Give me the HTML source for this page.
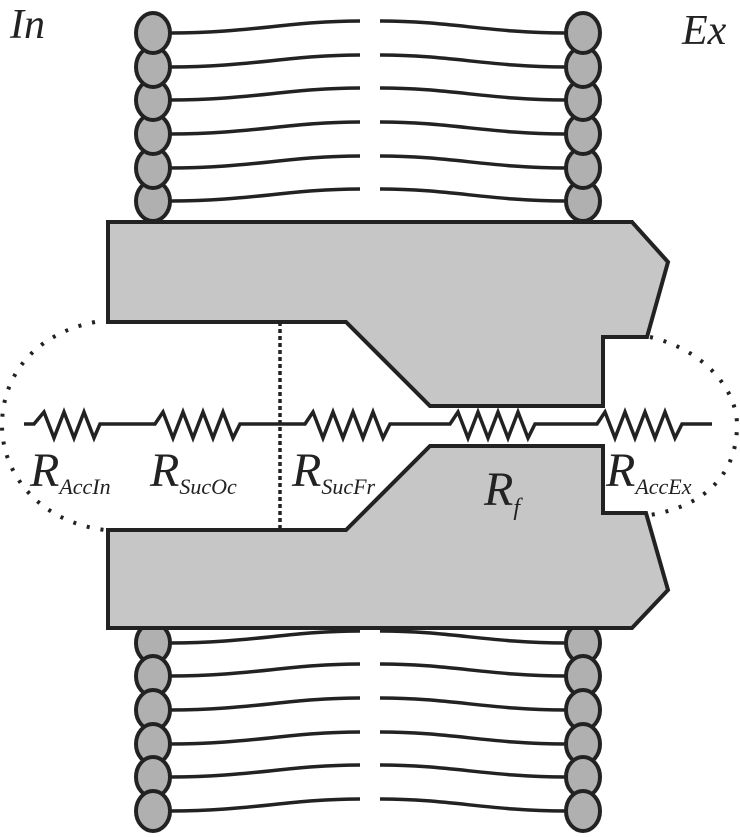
<!DOCTYPE html>
<html><head><meta charset="utf-8"><style>
html,body{margin:0;padding:0;background:#fff;}
svg{display:block;}
text{font-family:"Liberation Serif",serif;font-style:italic;fill:#222;}
</style></head><body>
<svg width="740" height="837" viewBox="0 0 740 837" xmlns="http://www.w3.org/2000/svg">
<g stroke="#222" stroke-width="3.5" fill="none" stroke-linecap="butt">
<g id="tt">
<path d="M170 33 C250 33 290 21 360 21"/>
<path d="M380 21 C450 21 490 33 566 33"/>
</g>
<use href="#tt" y="34"/><use href="#tt" y="67"/><use href="#tt" y="101"/><use href="#tt" y="135"/><use href="#tt" y="168"/>
<g id="bt">
<path d="M170 643 C250 643 290 631 360 631"/>
<path d="M380 631 C450 631 490 643 566 643"/>
</g>
<use href="#bt" y="33"/><use href="#bt" y="67"/><use href="#bt" y="101"/><use href="#bt" y="134"/><use href="#bt" y="168"/>
</g>
<g fill="#b0b0b0" stroke="#222" stroke-width="4">
<ellipse cx="153" cy="201" rx="17" ry="20"/><ellipse cx="153" cy="168" rx="17" ry="20"/><ellipse cx="153" cy="134" rx="17" ry="20"/><ellipse cx="153" cy="100" rx="17" ry="20"/><ellipse cx="153" cy="67" rx="17" ry="20"/><ellipse cx="153" cy="33" rx="17" ry="20"/>
<ellipse cx="583" cy="201" rx="17" ry="20"/><ellipse cx="583" cy="168" rx="17" ry="20"/><ellipse cx="583" cy="134" rx="17" ry="20"/><ellipse cx="583" cy="100" rx="17" ry="20"/><ellipse cx="583" cy="67" rx="17" ry="20"/><ellipse cx="583" cy="33" rx="17" ry="20"/>
<ellipse cx="153" cy="643" rx="17" ry="20"/><ellipse cx="153" cy="676" rx="17" ry="20"/><ellipse cx="153" cy="710" rx="17" ry="20"/><ellipse cx="153" cy="744" rx="17" ry="20"/><ellipse cx="153" cy="777" rx="17" ry="20"/><ellipse cx="153" cy="811" rx="17" ry="20"/>
<ellipse cx="583" cy="643" rx="17" ry="20"/><ellipse cx="583" cy="676" rx="17" ry="20"/><ellipse cx="583" cy="710" rx="17" ry="20"/><ellipse cx="583" cy="744" rx="17" ry="20"/><ellipse cx="583" cy="777" rx="17" ry="20"/><ellipse cx="583" cy="811" rx="17" ry="20"/>
</g>
<g stroke="#222" stroke-width="4" fill="none" stroke-dasharray="3 11">
<path d="M95 322 C30 335 2 380 2 425 C2 475 40 522 105 530"/>
<path d="M650 337 C705 350 737 390 737 425 C737 470 710 505 650 515"/>
</g>
<g fill="#c6c6c6" stroke="#222" stroke-width="4" stroke-linejoin="miter">
<path d="M108 222 L632 222 L668 262 L647 337 L603 337 L603 406 L430 406 L346 322 L108 322 Z"/>
<path d="M108 530 L346 530 L430 446 L603 446 L603 513 L646 513 L668 590 L632 628 L108 628 Z"/>
</g>
<line x1="280" y1="322" x2="280" y2="530" stroke="#222" stroke-width="3.5" stroke-dasharray="4 3"/>
<path d="M24 424 L34 424 L44 412 L54 438 L64 412 L74 438 L84 412 L94 438 L100 424 L155 424 L163 412 L173 438 L183 412 L193 438 L203 412 L213 438 L223 412 L233 438 L240 424 L305 424 L313 412 L323 438 L333 412 L343 438 L353 412 L363 438 L373 412 L383 438 L390 424 L450 424 L458 412 L468 438 L478 412 L488 438 L498 412 L508 438 L518 412 L528 438 L535 424 L597 424 L605 412 L615 438 L625 412 L635 438 L645 412 L655 438 L665 412 L675 438 L682 424 L712 424" stroke="#222" stroke-width="3.5" fill="none" stroke-linejoin="miter"/>
<text x="10" y="38" font-size="42">In</text>
<text x="682" y="44" font-size="42">Ex</text>
<text x="30" y="486" font-size="48">R<tspan font-size="22" dy="8">AccIn</tspan></text>
<text x="150" y="486" font-size="48">R<tspan font-size="22" dy="8">SucOc</tspan></text>
<text x="292" y="486" font-size="48">R<tspan font-size="22" dy="8">SucFr</tspan></text>
<text x="484" y="505" font-size="48">R<tspan font-size="24" dy="10">f</tspan></text>
<text x="606" y="486" font-size="48">R<tspan font-size="22" dy="8">AccEx</tspan></text>
</svg>
</body></html>
